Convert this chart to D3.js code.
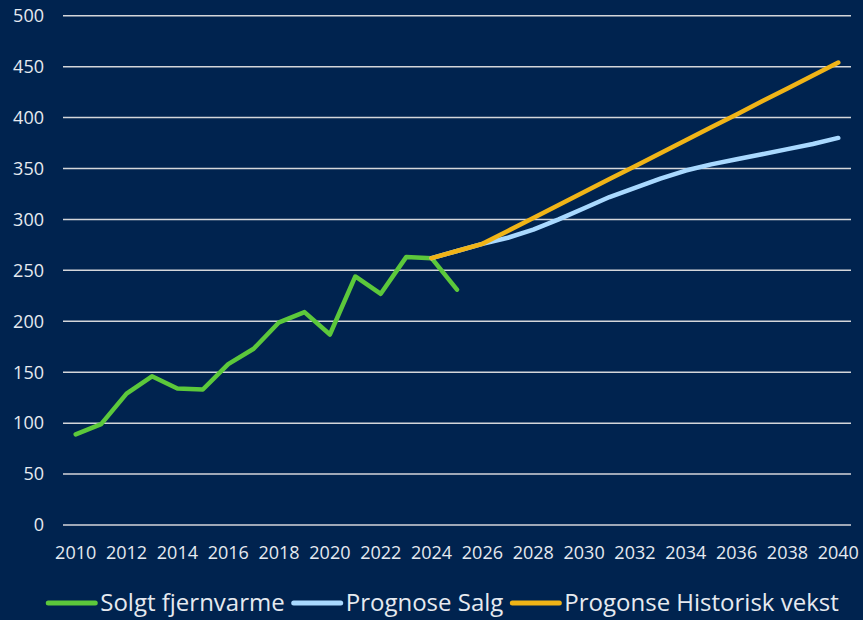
<!DOCTYPE html>
<html lang="no">
<head>
<meta charset="utf-8">
<title>Solgt fjernvarme</title>
<script src="https://d3js.org/d3.v7.min.js"></script>
<style>
  html, body { margin: 0; padding: 0; background: #00234f; }
  svg { display: block; font-family: "Open Sans", sans-serif; }
  .grid line { stroke: #d4d6da; stroke-width: 1.5; }
  .lbl { fill: #e6eaf0; }
</style>
</head>
<body>
<svg id="chart" width="863" height="620"></svg>
<script>
// years on the category axis
const years = d3.range(2010, 2041);
const yTicks = [0, 50, 100, 150, 200, 250, 300, 350, 400, 450, 500];

// solgt fjernvarme 2010-2025
const solgt = [89, 99, 129, 146, 134, 133, 158, 173, 199, 209, 187, 244, 227, 263, 262, 231];
// prognose salg 2024-2040
const prognoseSalg = [262, 269, 276, 282, 290, 300, 311, 322, 331, 340, 348, 354, 359, 364, 369, 374, 380];
// progonse historisk vekst 2024-2040
const historisk = [262, 269, 276, 288.7, 301.4, 314.1, 326.9, 339.6, 352.3, 365, 377.7, 390.4, 403.1, 415.9, 428.6, 441.3, 454];

const series = [
  { name: "Solgt fjernvarme", color: "#5cc83b", start: 2010, values: solgt },
  { name: "Prognose Salg", color: "#a9d9ff", start: 2024, values: prognoseSalg },
  { name: "Progonse Historisk vekst", color: "#f0b417", start: 2024, values: historisk }
];

const svg = d3.select("#chart");
const plotLeft = 63, plotRight = 851, plotTop = 15.7, plotBottom = 525;

let x = d3.scaleBand().domain(years).range([plotLeft, plotRight]).padding(0);
let y = d3.scaleLinear().domain([0, 500]).range([plotBottom, plotTop]);
const cx = d => x(d) + x.bandwidth() / 2;

// gridlines
svg.append("g").attr("class", "grid")
  .selectAll("line").data(yTicks).enter().append("line")
  .attr("x1", plotLeft).attr("x2", plotRight)
  .attr("y1", d => y(d)).attr("y2", d => y(d));

// y labels
svg.append("g").selectAll("text").data(yTicks).enter().append("text")
  .attr("class", "lbl")
  .attr("x", 44).attr("y", d => y(d))
  .attr("dy", "0.35em")
  .attr("text-anchor", "end")
  .attr("font-size", 18)
  .text(d => d);

// x labels, every second year
svg.append("g").selectAll("text").data(years.filter(d => d % 2 === 0)).enter().append("text")
  .attr("class", "lbl")
  .attr("x", d => cx(d)).attr("y", 559)
  .attr("text-anchor", "middle")
  .attr("font-size", 18)
  .text(d => d);

// lines
let line = d3.line().x(d => cx(d.year)).y(d => y(d.value));
series.forEach(s => {
  const pts = s.values.map((v, i) => ({ year: s.start + i, value: v }));
  svg.append("path")
    .datum(pts)
    .attr("fill", "none")
    .attr("stroke", s.color)
    .attr("stroke-width", 4.5)
    .attr("stroke-linejoin", "round")
    .attr("stroke-linecap", "round")
    .attr("d", line);
});

// legend
const legend = svg.append("g");
let pos = 0;
series.forEach(s => {
  const g = legend.append("g").attr("transform", `translate(${pos},0)`);
  g.append("line")
    .attr("x1", 0).attr("x2", 47)
    .attr("y1", 0).attr("y2", 0)
    .attr("stroke", s.color).attr("stroke-width", 5)
    .attr("stroke-linecap", "round");
  const t = g.append("text")
    .attr("class", "lbl")
    .attr("x", 52).attr("y", 0)
    .attr("dy", "0.35em")
    .attr("font-size", 24)
    .text(s.name);
  pos += 52 + t.node().getComputedTextLength() + 9;
});
legend.attr("transform", `translate(${443.5 - (pos - 9) / 2},603)`);
</script>
</body>
</html>
